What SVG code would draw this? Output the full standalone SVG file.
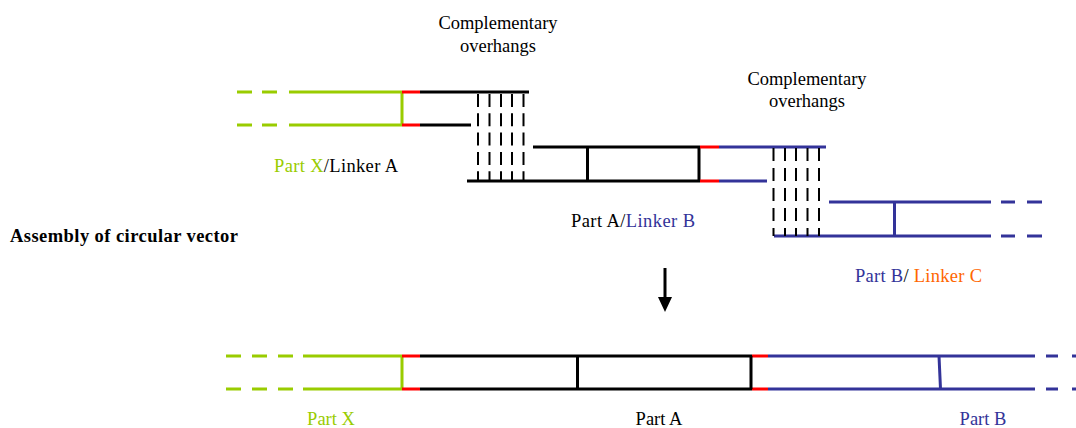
<svg xmlns="http://www.w3.org/2000/svg" width="1076" height="428" viewBox="0 0 1076 428">
  <style>
    .ln { fill: none; stroke-width: 3; stroke-linecap: butt; }
    .g { stroke: #99cc00; }
    .k { stroke: #000000; }
    .r { stroke: #ff0000; }
    .b { stroke: #333399; }
    .hatch { fill: none; stroke: #000000; stroke-width: 2; }
    .hatch1 { stroke-dasharray: 13 6.3; }
    .hatch2 { stroke-dasharray: 13 7; }
    text { font-family: "Liberation Serif", "Times New Roman", serif; font-size: 18.5px; fill: #000000; }
    .bold { font-weight: bold; }
    .tg { fill: #99cc00; }
    .tb { fill: #333399; }
    .to { fill: #ff6600; }
  </style>

  <rect width="1076" height="428" fill="#ffffff"/>

  <!-- Part X / Linker A fragment -->
  <g id="fragment-x">
    <path class="ln g" d="M237 92H252M262 92H277M289 92H402M237 125H252M262 125H277M289 125H402M402 92V125"/>
    <path class="ln r" d="M402 92H420M402 125H420"/>
    <path class="ln k" d="M420 92H529M420 125H471"/>
    <text x="274" y="172" textLength="124" lengthAdjust="spacing"><tspan class="tg">Part X</tspan>/Linker  A</text>
  </g>

  <!-- Part A / Linker B fragment -->
  <g id="fragment-a">
    <path class="ln k" d="M533 147H700M467 181H700M587.5 147V181M699 147V181"/>
    <path class="ln r" d="M700 147H719M700 181H719"/>
    <path class="ln b" d="M719 147H826M719 181H767"/>
    <text x="571" y="227" textLength="124" lengthAdjust="spacing">Part A/<tspan class="tb">Linker  B</tspan></text>
  </g>

  <!-- Part B / Linker C fragment -->
  <g id="fragment-b">
    <path class="ln b" d="M829 202H991M1001 202H1015M1027 202H1042M774 236H991M1001 236H1015M1027 236H1042M894.5 202V236"/>
    <text x="855" y="282" textLength="127" lengthAdjust="spacing"><tspan class="tb">Part B</tspan>/ <tspan class="to">Linker C</tspan></text>
  </g>

  <!-- annealing overhangs between X and A -->
  <g id="overhang-1">
    <path class="hatch hatch1" d="M478 94V181M489.5 94V181M501 94V181M512 94V181M523.5 94V181"/>
    <text x="498" y="29" text-anchor="middle">Complementary</text>
    <text x="498" y="52" text-anchor="middle">overhangs</text>
  </g>

  <!-- annealing overhangs between A and B -->
  <g id="overhang-2">
    <path class="hatch hatch2" d="M773.5 148V236M785 148V236M796 148V236M807.5 148V236M819 148V236"/>
    <text x="807" y="85" text-anchor="middle">Complementary</text>
    <text x="807" y="107" text-anchor="middle">overhangs</text>
  </g>

  <!-- title -->
  <g id="title">
    <text class="bold" x="10" y="242" textLength="228" lengthAdjust="spacing">Assembly of circular vector</text>
  </g>

  <!-- assembled vector -->
  <g id="assembled">
    <path class="ln g" d="M226 356H241M252 356H267M278 356H293M303 356H402M226 389H241M252 389H267M278 389H293M303 389H402M402 356V389"/>
    <path class="ln r" d="M402 356H420M402 389H420M752 356H768M752 389H768"/>
    <path class="ln k" d="M420 356H752M420 389H752M577.5 356V389M751 356V389"/>
    <path class="ln b" d="M768 356H1035M1046 356H1058M1072 356H1080M768 389H1035M1046 389H1058M1072 389H1080M939 356L940.5 389"/>
    <text class="tg" x="331" y="425" text-anchor="middle">Part X</text>
    <text x="659" y="425" text-anchor="middle">Part A</text>
    <text class="tb" x="983" y="425" text-anchor="middle">Part B</text>
  </g>

  <!-- connectors -->
  <g id="connectors">
    <path d="M665 268V299" stroke="#000000" stroke-width="3" fill="none"/>
    <polygon points="658,297 672,297 665,312" fill="#000000"/>
  </g>
</svg>
